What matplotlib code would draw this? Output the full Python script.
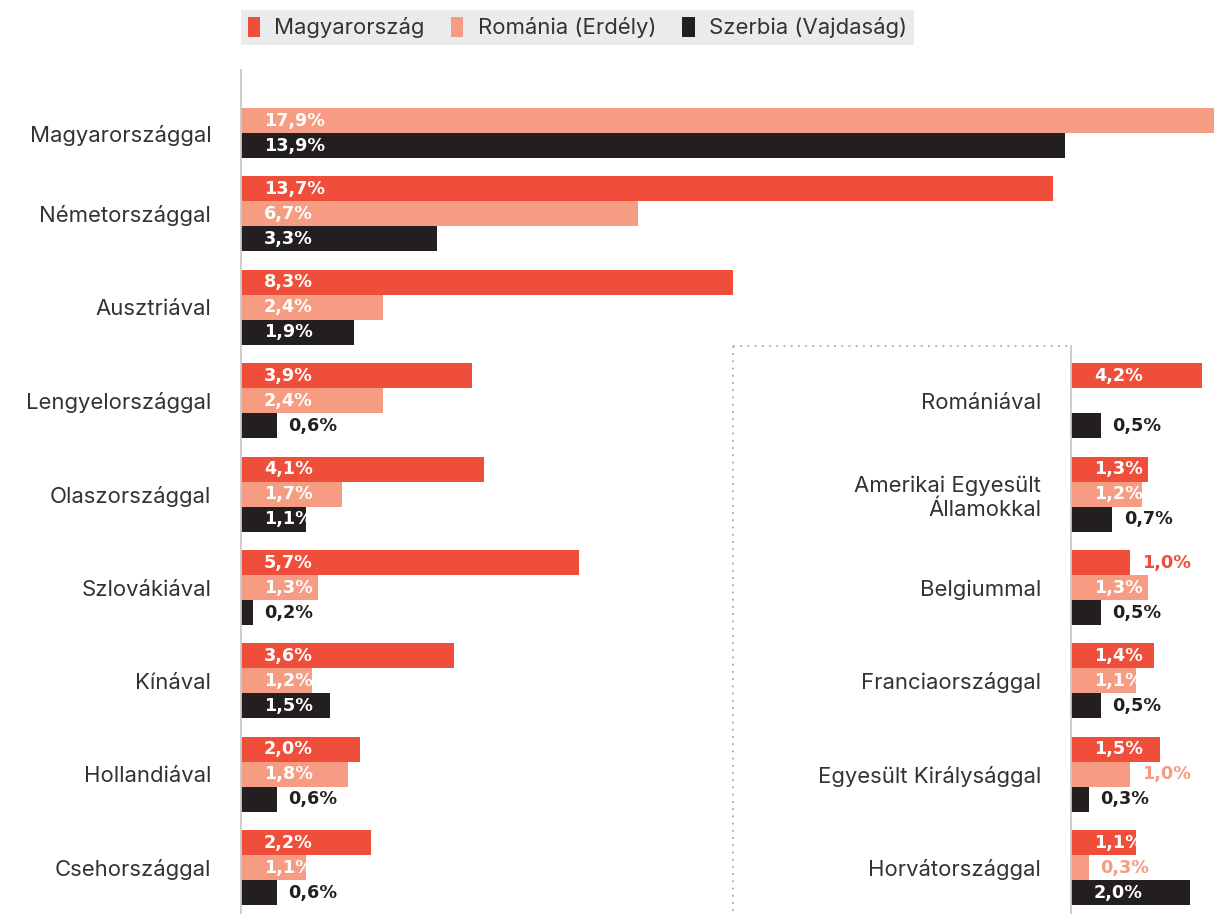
import matplotlib.pyplot as plt
from matplotlib.patches import Patch

plt.rcParams['font.family'] = ['Inter', 'DejaVu Sans']

# data
left_cats = ["Magyarországgal", "Németországgal", "Ausztriával", "Lengyelországgal",
             "Olaszországgal", "Szlovákiával", "Kínával", "Hollandiával", "Csehországgal"]
hu_left = [None, 13.7, 8.3, 3.9, 4.1, 5.7, 3.6, 2.0, 2.2]
ro_left = [17.9, 6.7, 2.4, 2.4, 1.7, 1.3, 1.2, 1.8, 1.1]
rs_left = [13.9, 3.3, 1.9, 0.6, 1.1, 0.2, 1.5, 0.6, 0.6]

right_cats = ["Romániával", "Amerikai Egyesült\nÁllamokkal", "Belgiummal",
              "Franciaországgal", "Egyesült Királysággal", "Horvátországgal"]
hu_right = [4.2, 1.3, 1.0, 1.4, 1.5, 1.1]
ro_right = [None, 1.2, 1.3, 1.1, 1.0, 0.3]
rs_right = [0.5, 0.7, 0.5, 0.5, 0.3, 2.0]

series = ["Magyarország", "Románia (Erdély)", "Szerbia (Vajdaság)"]
colors = ["#ef4e3b", "#f59c83", "#231f20"]
text_col = "#333333"
val_font = ["DejaVu Sans"]

W, H = 1214, 914
fig = plt.figure(figsize=(W / 100, H / 100), dpi=100)

gap = 3.736          # group spacing in bar-heights
px = 25.0            # pixels per bar slot
y_top = -1.02
y_bot = y_top + (914 - 70) / px
xscale = (1065 - 241) / 13.9   # px per percent


def fmt(v):
    return f"{v:.1f}%".replace(".", ",")


def draw_group(ax, cats, cols, offset):
    ticks = []
    for i, cat in enumerate(cats):
        base = (i + offset) * gap
        present = []
        for k, vals in enumerate(cols):
            v = vals[i]
            if v is None:
                continue
            y = base + k
            present.append(y)
            ax.barh(y, v, height=1.0, color=colors[k], linewidth=0)
            if v >= 1.1:
                ax.annotate(fmt(v), (0, y), xytext=(16.5, 0), textcoords="offset points",
                            ha="left", va="center", color="white", fontweight="bold",
                            fontsize=12.7, family=val_font, annotation_clip=False)
            else:
                ax.annotate(fmt(v), (v, y), xytext=(8.3, 0), textcoords="offset points",
                            ha="left", va="center", color=colors[k], fontweight="bold",
                            fontsize=12.7, family=val_font, annotation_clip=False)
        ticks.append(sum(present) / len(present))
    ax.set_yticks(ticks)
    ax.set_yticklabels(cats, fontsize=15.9, color=text_col)
    ax.tick_params(axis="y", length=0, pad=21.5)
    ax.set_xticks([])
    ax.set_ylim(y_bot, y_top)
    for s in ["top", "right", "bottom"]:
        ax.spines[s].set_visible(False)
    ax.spines["left"].set_color("#c9c9c9")
    ax.spines["left"].set_linewidth(1.3)


# left panel
axl = fig.add_axes([241 / W, 0, (W - 241) / W, (914 - 70) / H])
axl.set_facecolor("none")
draw_group(axl, left_cats, [hu_left, ro_left, rs_left], 0)
axl.set_xlim(0, (W - 241) / xscale)

# right panel
axr = fig.add_axes([1071 / W, 0, (1202 - 1071) / W, (914 - 70) / H])
axr.set_facecolor("none")
draw_group(axr, right_cats, [hu_right, ro_right, rs_right], 3)
axr.set_xlim(0, (1202 - 1071) / xscale)
box_top = 3 * gap - 1.2
axr.spines["left"].set_bounds(y_bot, box_top)

# dotted frame around the inset
x_box = (733 - 241) / xscale
x_right = (1071 - 241) / xscale
axl.plot([x_box, x_right], [box_top, box_top], ls=(0, (1, 3)), color="#aaaaaa", lw=1.3, clip_on=False)
axl.plot([x_box, x_box], [box_top, y_bot], ls=(0, (1, 3)), color="#aaaaaa", lw=1.3, clip_on=False)

# legend
handles = [Patch(facecolor=c, edgecolor="none") for c in colors]
leg = fig.legend(handles, series, loc="upper left", bbox_to_anchor=(241 / W, 1 - 10 / H),
                 ncol=3, frameon=True, fancybox=False, facecolor="#e6e7e8", edgecolor="none",
                 fontsize=15.9, handlelength=0.55, handleheight=1.05, handletextpad=0.65,
                 columnspacing=1.2, borderpad=0.3, borderaxespad=0)
for t in leg.get_texts():
    t.set_color(text_col)

fig.savefig("out.png", dpi=100)
